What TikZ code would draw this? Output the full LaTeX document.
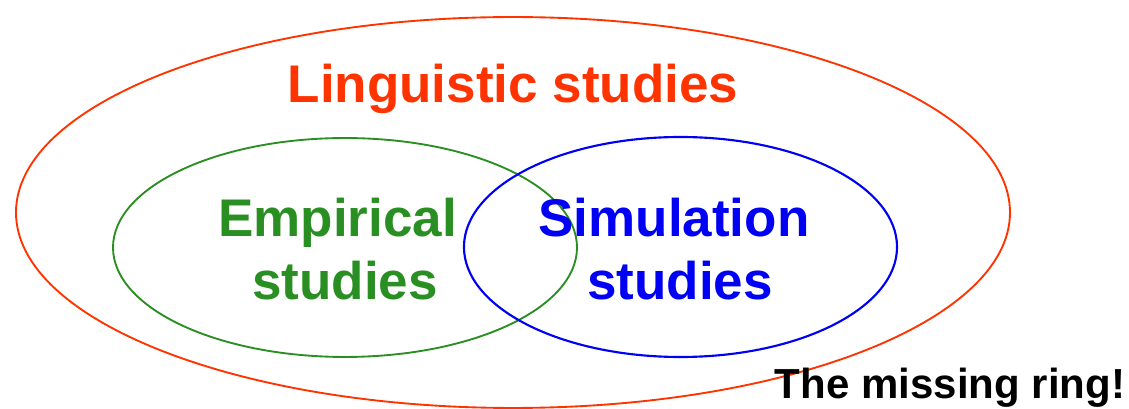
\documentclass[tikz,border=0pt]{standalone}
\usepackage{fontspec}
\setmainfont{Liberation Sans}
\definecolor{ringred}{RGB}{255,51,0}
\definecolor{ringgreen}{RGB}{42,143,34}
\definecolor{ringblue}{RGB}{0,0,245}
\begin{document}
\begin{tikzpicture}[x=0.75pt,y=-0.75pt,
  ring/.style={line width=1.4pt},
  lab/.style={inner sep=0pt,anchor=base,font=\fontsize{39.75}{47}\selectfont\bfseries}]
\useasboundingbox (0,0) rectangle (1129,409);
\draw[ring,ringred] (513,212.5) ellipse [x radius=372.75pt, y radius=146.6pt];
\draw[ring,ringgreen] (345,247.5) ellipse [x radius=174pt, y radius=82.1pt];
\draw[ring,ringblue,line width=1.6pt] (680.5,247) ellipse [x radius=162.4pt, y radius=82.5pt];
\node[lab,text=ringred] (ling) at (513,103) {Linguistic studies};
\node[lab,text=ringgreen] (emp1) at (337.5,237) {Empirical};
\node[lab,text=ringgreen] (emp2) at (345,300) {studies};
\node[lab,text=ringblue] (sim1) at (674,237) {Simulation};
\node[lab,text=ringblue] (sim2) at (680,300) {studies};
\node[inner sep=0pt,anchor=base,font=\fontsize{31.5}{38}\selectfont\bfseries] (miss) at (950,399) {The missing ring!};
\end{tikzpicture}
\end{document}
